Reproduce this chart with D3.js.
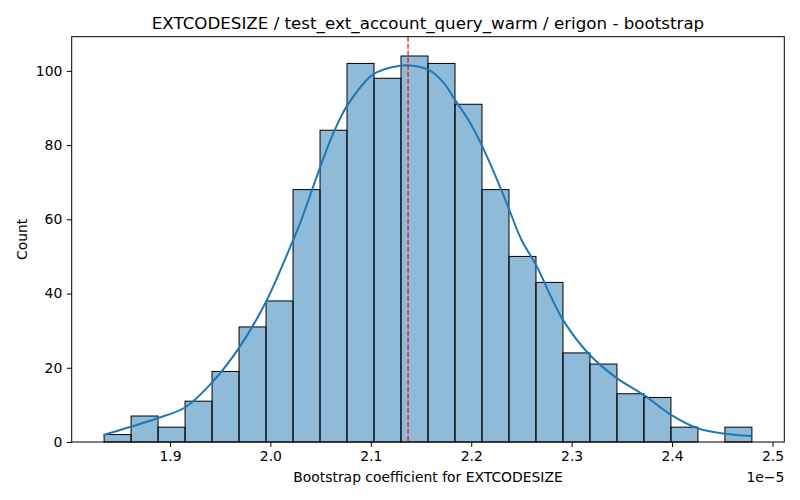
<!DOCTYPE html>
<html>
<head>
<meta charset="utf-8">
<script src="https://cdn.jsdelivr.net/npm/d3@7"></script>
<style>
  body { margin: 0; background: #fff; }
  svg text { font-family: "DejaVu Sans", sans-serif; }
</style>
</head>
<body>
<svg id="chart" width="800" height="500"></svg>
<script>
// ---- data (x in units of 1e-5) ----
const title = "EXTCODESIZE / test_ext_account_query_warm / erigon - bootstrap";
const xLabel = "Bootstrap coefficient for EXTCODESIZE";
const yLabel = "Count";
const binStart = 1.8344;
const binWidth = 0.02688;
const counts = [2, 7, 4, 11, 19, 31, 38, 68, 84, 102, 98, 104, 102, 91, 68, 50, 43, 24, 21, 13, 12, 4, 0, 4];
const kdeX = [1.8339, 1.861, 1.8875, 1.9149, 1.9421, 1.9686, 1.9951, 2.0222, 2.0298, 2.0487, 2.063, 2.0762,
              2.1027, 2.1292, 2.1424, 2.1573, 2.1722, 2.1845, 2.1987, 2.2109, 2.2285, 2.2384, 2.25, 2.2643,
              2.2914, 2.3179, 2.345, 2.3718, 2.399, 2.4255, 2.4527, 2.4791];
const kdeY = [1.9, 4.1, 6.4, 9.3, 16.1, 25.3, 37.5, 54.1, 59.1, 73.4, 83.4, 90.5,
              99.1, 101.4, 101.4, 100.3, 96.9, 91.9, 86.1, 79.7, 68.9, 62.2, 54.5, 47.8,
              32.9, 23.5, 17.2, 12.7, 7.3, 3.7, 2.2, 1.6];
const refLine = 2.1371;
const xTicks = [1.9, 2.0, 2.1, 2.2, 2.3, 2.4, 2.5];
const yTicks = [0, 20, 40, 60, 80, 100];
const offsetText = "1e\u22125";

// ---- layout ----
const svg = d3.select("#chart");
const m = { left: 71.7, right: 784.3, top: 36.7, bottom: 442 };

const bins = counts.map((c, i) => ({ x0: binStart + i * binWidth, x1: binStart + (i + 1) * binWidth, c }));
const dataMin = binStart, dataMax = binStart + counts.length * binWidth;
const pad = (dataMax - dataMin) * 0.05;
const x = d3.scaleLinear().domain([dataMin - pad, dataMax + pad]).range([m.left, m.right]);
const yMax = d3.max(counts) * 1.05;
const y = d3.scaleLinear().domain([0, yMax]).range([m.bottom, m.top]);

// bars
svg.append("g").selectAll("rect").data(bins).enter().append("rect")
  .attr("x", d => x(d.x0))
  .attr("y", d => y(d.c))
  .attr("width", d => x(d.x1) - x(d.x0))
  .attr("height", d => y(0) - y(d.c))
  .attr("fill", "#1f77b4").attr("fill-opacity", 0.5)
  .attr("stroke", "#000").attr("stroke-width", 1);

// kde
const kde = kdeX.map((v, i) => [v, kdeY[i]]);
svg.append("path").datum(kde)
  .attr("d", d3.line().x(d => x(d[0])).y(d => y(d[1])).curve(d3.curveCatmullRom))
  .attr("fill", "none").attr("stroke", "#1f77b4").attr("stroke-width", 2);

// reference line
svg.append("line")
  .attr("x1", x(refLine)).attr("x2", x(refLine))
  .attr("y1", m.top).attr("y2", m.bottom)
  .attr("stroke", "red").attr("stroke-width", 1.2).attr("stroke-dasharray", "5,2");

// axes
const xAxis = d3.axisBottom(x).tickValues(xTicks).tickFormat(d3.format(".1f")).tickSize(4.9).tickPadding(4.5);
const gx = svg.append("g").attr("transform", `translate(0,${m.bottom})`).call(xAxis);
const yAxis = d3.axisLeft(y).tickValues(yTicks).tickFormat(d3.format("d")).tickSize(4.9).tickPadding(4.5);
const gy = svg.append("g").attr("transform", `translate(${m.left},0)`).call(yAxis);
[gx, gy].forEach(g => {
  g.select(".domain").remove();
  g.selectAll(".tick line").attr("stroke", "#000").attr("stroke-width", 1);
  g.selectAll(".tick text").attr("fill", "#000").style("font-size", "13.9px").style("font-family", "DejaVu Sans");
});

// frame
svg.append("rect")
  .attr("x", m.left).attr("y", m.top)
  .attr("width", m.right - m.left).attr("height", m.bottom - m.top)
  .attr("fill", "none").attr("stroke", "#000").attr("stroke-width", 1);

// labels
svg.append("text").attr("x", (m.left + m.right) / 2).attr("y", 29)
  .attr("text-anchor", "middle").style("font-size", "16.7px").text(title);
svg.append("text").attr("x", (m.left + m.right) / 2).attr("y", 482)
  .attr("text-anchor", "middle").style("font-size", "13.9px").text(xLabel);
svg.append("text").attr("transform", `translate(27,${(m.top + m.bottom) / 2}) rotate(-90)`)
  .attr("text-anchor", "middle").style("font-size", "13.9px").text(yLabel);
svg.append("text").attr("x", m.right).attr("y", 482)
  .attr("text-anchor", "end").style("font-size", "13.9px").text(offsetText);
</script>
</body>
</html>
